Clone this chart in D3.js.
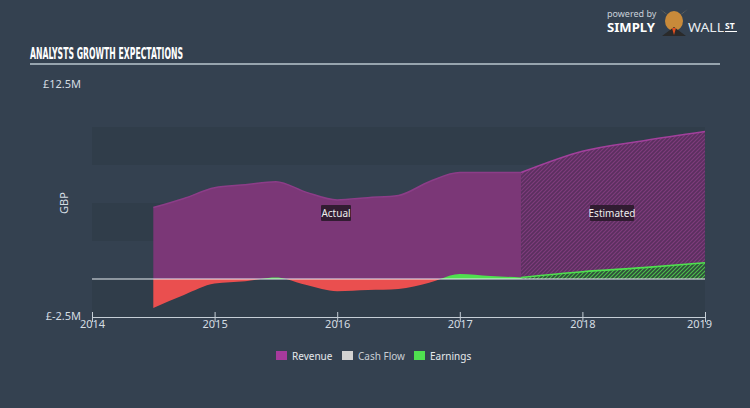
<!DOCTYPE html>
<html><head><meta charset="utf-8">
<script src="https://cdn.jsdelivr.net/npm/d3@7"></script>
<style>
html,body{margin:0;padding:0;background:#344150;}
svg{display:block;}
</style></head>
<body>
<svg id="c" width="750" height="408"></svg>
<script>
// ---- data ----
const dates = [2014.5, 2014.75, 2015.0, 2015.25, 2015.5, 2015.75, 2016.0, 2016.25, 2016.5, 2016.75, 2017.0, 2017.25, 2017.5];
const revenueActual = [4.7, 5.3, 6.0, 6.2, 6.4, 5.7, 5.2, 5.35, 5.5, 6.4, 7.0, 7.0, 7.0];
const earningsActual = [-1.9, -1.05, -0.3, -0.15, 0.1, -0.4, -0.8, -0.72, -0.65, -0.25, 0.33, 0.2, 0.1];
const estDates = [2017.5, 2018.0, 2018.5, 2019.0];
const revenueEst = [7.0, 8.4, 9.1, 9.7];
const earningsEst = [0.1, 0.48, 0.75, 1.07];
const cashFlow = [];
const xTicks = [2014, 2015, 2016, 2017, 2018, 2019];
const yTickLabels = ["£12.5M", "£-2.5M"];
const yTickValues = [12.5, -2.5];
const bandRanges = [[10, 7.5], [5, 2.5], [0, -2.5]];
const legendItems = ["Revenue", "Cash Flow", "Earnings"];
const legendColors = ["#a73a9d", "#d2d2d2", "#4fe04f"];

const svg = d3.select("#c");
const font = "'Noto Sans', 'DejaVu Sans', sans-serif";
const x = d3.scaleLinear().domain([2014, 2019]).range([92, 705]);
const y = d3.scaleLinear().domain([-2.5, 12.5]).range([317, 89]);

// background
svg.append("rect").attr("width", 750).attr("height", 408).attr("fill", "#344150");
const g0 = svg.append("g");
bandRanges.forEach(b => {
  g0.append("rect").attr("x", x(2014)).attr("y", y(b[0])).attr("width", x(2019) - x(2014)).attr("height", y(b[1]) - y(b[0])).attr("fill", "#303d4a");
});

// defs
const defs = svg.append("defs");
function hatch(id, bg, line) {
  const p = defs.append("pattern").attr("id", id).attr("patternUnits", "userSpaceOnUse").attr("width", 4).attr("height", 4);
  p.append("rect").attr("width", 4).attr("height", 4).attr("fill", bg);
  p.append("path").attr("d", "M-1,1 l2,-2 M0,4 l4,-4 M3,5 l2,-2").attr("stroke", line).attr("stroke-width", 1.1);
}
hatch("hRev", "#5a2f5f", "#7f3b7c");
hatch("hEarn", "#2e4d3a", "#4cc04c");
defs.append("clipPath").attr("id", "pos").append("rect").attr("x", 0).attr("y", 0).attr("width", 750).attr("height", y(0));
defs.append("clipPath").attr("id", "neg").append("rect").attr("x", 0).attr("y", y(0)).attr("width", 750).attr("height", 408);

const curve = d3.curveMonotoneX;
const act = dates.map((d, i) => ({t: d, r: revenueActual[i], e: earningsActual[i]}));
const est = estDates.map((d, i) => ({t: d, r: revenueEst[i], e: earningsEst[i]}));
const areaR = d3.area().curve(curve).x(d => x(d.t)).y0(y(0)).y1(d => y(d.r));
const lineR = d3.line().curve(curve).x(d => x(d.t)).y(d => y(d.r));
const areaE = d3.area().curve(curve).x(d => x(d.t)).y0(y(0)).y1(d => y(d.e));
const lineE = d3.line().curve(curve).x(d => x(d.t)).y(d => y(d.e));

// revenue
svg.append("path").datum(act).attr("d", areaR).attr("fill", "#7b3777");
svg.append("path").datum(act).attr("d", lineR).attr("fill", "none").attr("stroke", "#8c3d88").attr("stroke-width", 1.5);
svg.append("path").datum(est).attr("d", areaR).attr("fill", "url(#hRev)");
svg.append("path").datum(est).attr("d", lineR).attr("fill", "none").attr("stroke", "#a2409c").attr("stroke-width", 1.6);

// earnings
svg.append("path").datum(act).attr("d", areaE).attr("fill", "#4fe04f").attr("clip-path", "url(#pos)");
svg.append("path").datum(act).attr("d", areaE).attr("fill", "#ea4f4f").attr("clip-path", "url(#neg)");
svg.append("path").datum(est).attr("d", areaE).attr("fill", "url(#hEarn)");
svg.append("path").datum(est).attr("d", lineE).attr("fill", "none").attr("stroke", "#4fe04f").attr("stroke-width", 1.6);

// zero line
svg.append("line").attr("x1", 92).attr("x2", 705).attr("y1", y(0)).attr("y2", y(0)).attr("stroke", "#e8eef2").attr("stroke-width", 1);

// x axis
const ax = svg.append("g").attr("transform", `translate(0,${y(-2.5)})`)
  .call(d3.axisBottom(x).tickValues(xTicks).tickFormat(d3.format("d")).tickSizeInner(5).tickSizeOuter(0));
ax.select(".domain").attr("stroke", "#c5ced6");
ax.selectAll(".tick line").attr("stroke", "#c5ced6").attr("y1", -5).attr("y2", 5);
ax.selectAll(".tick text").attr("fill", "#d5dde3").attr("font-family", font).attr("font-size", 11).attr("dy", "0.55em").attr("y", 5)
  .attr("dx", d => d === 2019 ? -6 : 0);

// y labels
yTickValues.forEach((v, i) => {
  svg.append("text").attr("x", 81).attr("y", y(v) + (v > 0 ? -4 : 0)).attr("text-anchor", "end")
    .attr("dominant-baseline", "middle").attr("fill", "#d5dde3").attr("font-family", font).attr("font-size", 11).text(yTickLabels[i]);
});
svg.append("text").attr("transform", `translate(68,${y(5)}) rotate(-90)`).attr("text-anchor", "middle")
  .attr("fill", "#d5dde3").attr("font-family", font).attr("font-size", 11).text("GBP");

// Actual / Estimated labels
function tag(cx, cy, label, w) {
  svg.append("rect").attr("x", cx - w / 2).attr("y", cy - 8).attr("width", w).attr("height", 16).attr("rx", 1).attr("fill", "#2b1a2c").attr("opacity", 0.92);
  svg.append("text").attr("x", cx).attr("y", cy).attr("text-anchor", "middle").attr("dominant-baseline", "central")
    .attr("fill", "#eee").attr("font-family", font).attr("font-size", 10).text(label);
}
tag(336, 213, "Actual", 30);
tag(612, 213, "Estimated", 44);

// title
svg.append("text").attr("x", 30).attr("y", 58.5).attr("fill", "#ffffff").attr("font-family", "'DejaVu Sans Condensed', 'DejaVu Sans', sans-serif")
  .attr("font-weight", "bold").attr("font-size", 15).attr("textLength", 153).attr("lengthAdjust", "spacingAndGlyphs").text("ANALYSTS GROWTH EXPECTATIONS");
svg.append("line").attr("x1", 30).attr("x2", 720).attr("y1", 64).attr("y2", 64).attr("stroke", "#b8c6ce").attr("stroke-width", 1.5);

// legend
let lx = 276;
const lw = [66, 72, 60];
legendItems.forEach((t, i) => {
  svg.append("rect").attr("x", lx).attr("y", 351).attr("width", 11).attr("height", 9).attr("fill", legendColors[i]);
  svg.append("text").attr("x", lx + 16).attr("y", 356).attr("dominant-baseline", "central").attr("fill", i === 1 ? "#c8ced4" : "#e6e9ec")
    .attr("font-family", font).attr("font-size", 10).text(t);
  lx += lw[i];
});

// logo
svg.append("text").attr("x", 607).attr("y", 17).attr("fill", "#c8d0d8").attr("font-family", font).attr("font-size", 9).text("powered by");
svg.append("text").attr("x", 607).attr("y", 32).attr("fill", "#ffffff").attr("font-family", font).attr("font-weight", "bold").attr("font-size", 12.5).attr("textLength", 48).attr("lengthAdjust", "spacingAndGlyphs").text("SIMPLY");
const lg = svg.append("g").attr("transform", "translate(674,22)");
lg.append("ellipse").attr("cx", 0).attr("cy", -1).attr("rx", 9).attr("ry", 10).attr("fill", "#c88a3a");
lg.append("path").attr("d", "M-9,-9 L-14,-13 L-6,-7 Z M9,-9 L14,-13 L6,-7 Z").attr("fill", "#e0c080");
lg.append("path").attr("d", "M-12,14 L0,5 L12,14 Z").attr("fill", "#2a2a2a");
lg.append("path").attr("d", "M-2,6 L0,13 L2,6 Z").attr("fill", "#e05020");
svg.append("text").attr("x", 688).attr("y", 32).attr("fill", "#e8ecef").attr("font-family", font).attr("font-size", 12.5).attr("textLength", 36).attr("lengthAdjust", "spacingAndGlyphs").text("WALL");
svg.append("text").attr("x", 725).attr("y", 29).attr("fill", "#ffffff").attr("font-family", font).attr("font-weight", "bold").attr("font-size", 8.5).text("ST");
svg.append("line").attr("x1", 725).attr("x2", 737).attr("y1", 31.5).attr("y2", 31.5).attr("stroke", "#fff").attr("stroke-width", 1);
</script>
</body></html>
